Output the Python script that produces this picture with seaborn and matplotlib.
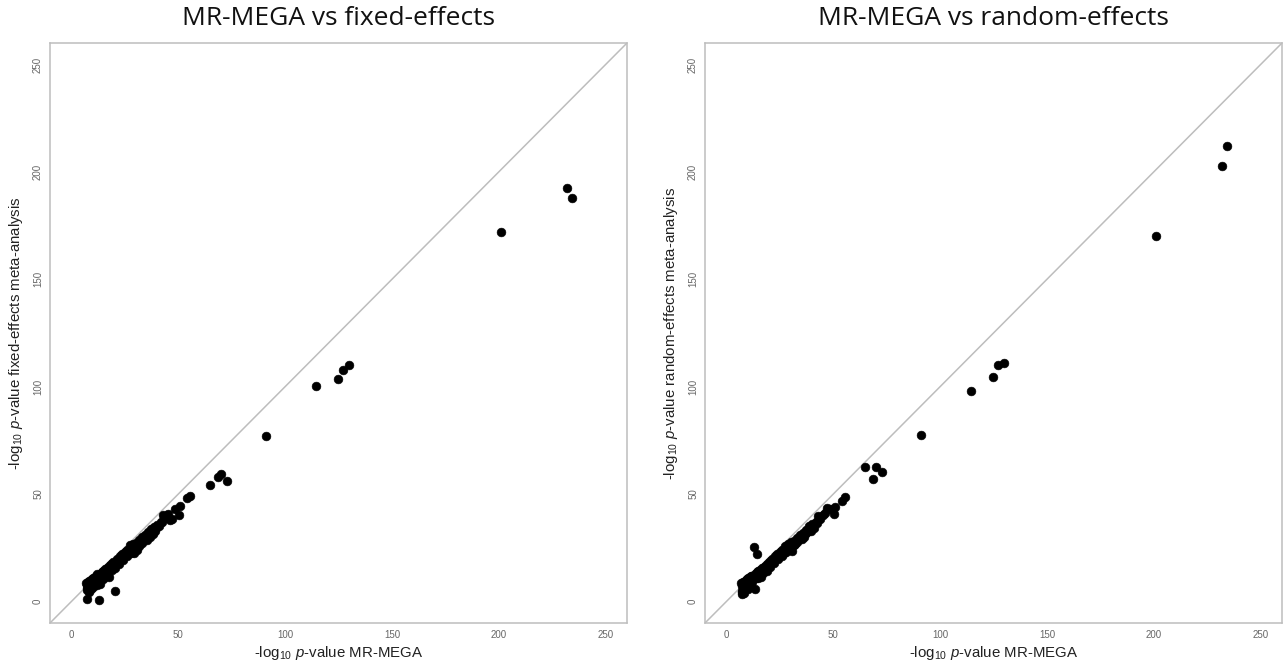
import pandas as pd
import matplotlib
matplotlib.use("Agg")
import matplotlib.pyplot as plt
import seaborn as sns

# -log10 p-values, one entry per SNP
mr_mega = [232.0, 234.2, 201.0, 130.0, 127.2, 124.6, 114.4, 90.9, 70.2, 68.5,
           72.9, 65.1, 55.5, 54.0, 51.0, 50.5, 48.5, 47.2, 45.3, 43.0,
           42.5, 13.0, 14.4, 20.5, 7.3, 13.6, 17.8,
           7.0, 7.1, 7.3, 7.5, 7.6, 7.8, 8.0, 8.2, 8.4, 8.6,
           8.9, 9.1, 9.4, 9.7, 10.0, 10.3, 10.6, 10.9, 11.2, 11.5,
           11.9, 12.2, 12.6, 13.3, 13.7, 14.1, 14.5, 14.9, 15.3, 15.8,
           16.2, 16.7, 17.1, 17.6, 18.0, 18.5, 19.0, 19.5, 20.0, 21.0,
           21.5, 22.0, 22.6, 23.2, 23.8, 24.4, 25.0, 25.6, 26.2, 26.8,
           27.4, 28.0, 28.7, 29.4, 30.1, 30.8, 31.5, 32.2, 32.9, 33.6,
           34.3, 35.0, 35.7, 36.4, 37.1, 37.8, 38.5, 39.2, 40.0, 41.0,
           8.1, 9.0, 10.2, 11.0, 12.0, 14.8, 16.0, 17.3, 18.8, 20.3,
           22.3, 24.0, 26.0, 27.8, 29.8, 31.8, 33.2, 35.4, 36.8, 38.2,
           39.8, 41.8, 44.0, 46.0]

fixed_fx = [192.6, 188.0, 172.1, 110.1, 107.9, 103.4, 100.5, 77.2, 59.2, 57.9,
            56.1, 54.3, 48.9, 48.4, 44.4, 40.1, 43.2, 38.3, 40.8, 40.5,
            36.9, 0.7, 12.0, 4.9, 1.4, 8.0, 11.2,
            8.8, 6.5, 7.8, 5.2, 9.2, 6.8, 8.4, 7.2, 9.6, 6.0,
            8.8, 10.2, 7.6, 10.6, 8.6, 11.0, 9.2, 11.6, 8.0, 12.0,
            10.0, 12.6, 9.4, 12.8, 11.0, 13.8, 12.2, 14.4, 13.0, 15.0,
            13.6, 15.8, 14.4, 16.6, 15.2, 17.4, 16.0, 18.2, 17.0, 18.0,
            20.0, 18.8, 21.0, 19.8, 22.0, 21.0, 23.0, 22.0, 24.0, 23.4,
            26.2, 24.6, 26.8, 22.6, 27.4, 24.0, 28.6, 27.0, 30.0, 28.6,
            31.0, 30.0, 32.4, 31.0, 33.6, 32.0, 34.6, 33.0, 35.6, 35.0,
            4.5, 5.8, 6.8, 9.8, 7.6, 10.6, 12.0, 13.0, 14.6, 15.8,
            17.6, 19.2, 21.0, 22.4, 24.6, 25.8, 27.2, 28.8, 30.0, 31.6,
            34.0, 37.2, 39.0, 37.8]

random_fx = [202.7, 212.2, 170.1, 111.0, 110.3, 104.3, 97.8, 77.3, 62.4, 57.2,
             60.4, 62.4, 48.6, 46.8, 44.1, 40.8, 43.0, 43.5, 40.2, 39.8,
             36.5, 25.4, 22.3, 19.0, 3.6, 5.9, 14.0,
             8.5, 5.0, 7.2, 4.2, 9.0, 6.3, 7.8, 5.6, 9.3, 6.9,
             8.2, 9.8, 7.0, 10.3, 8.8, 10.9, 8.6, 11.3, 9.6, 11.8,
             10.4, 12.1, 11.0, 13.0, 10.8, 13.6, 12.4, 14.3, 12.8, 14.9,
             13.2, 15.6, 14.6, 16.2, 15.0, 17.2, 16.4, 18.0, 16.8, 18.6,
             19.8, 18.4, 21.0, 20.2, 22.1, 21.4, 23.0, 22.2, 23.8, 22.8,
             25.8, 25.0, 27.0, 24.0, 27.8, 23.6, 28.2, 27.0, 29.6, 28.8,
             30.8, 29.6, 32.0, 30.0, 33.2, 32.2, 35.2, 33.4, 36.0, 34.0,
             3.8, 7.4, 6.0, 7.8, 9.0, 11.0, 11.6, 13.4, 14.2, 16.0,
             17.8, 19.6, 21.2, 23.0, 25.4, 26.2, 27.6, 29.2, 31.4, 32.8,
             33.0, 36.8, 38.6, 41.0]

titles = ["MR-MEGA vs fixed-effects", "MR-MEGA vs random-effects"]
y_labels = [r"-log$_{10}$ $\it{p}$-value fixed-effects meta-analysis",
            r"-log$_{10}$ $\it{p}$-value random-effects meta-analysis"]
x_label = r"-log$_{10}$ $\it{p}$-value MR-MEGA"
ticks = [0, 50, 100, 150, 200, 250]

df = pd.DataFrame({"mr_mega": mr_mega, "fixed": fixed_fx, "random": random_fx})

sns.set_style("white")
plt.rcParams['font.family'] = ['Liberation Sans', 'DejaVu Sans']
plt.rcParams['mathtext.fontset'] = 'custom'
plt.rcParams['mathtext.rm'] = 'Liberation Sans'
plt.rcParams['mathtext.it'] = 'Liberation Sans:italic'

fig = plt.figure(figsize=(12.87, 6.63), dpi=100)
boxes = [[50 / 1287, 40 / 663, 577 / 1287, 580 / 663],
         [705 / 1287, 40 / 663, 577 / 1287, 580 / 663]]

grey = "#bdbdbd"
for i, col in enumerate(["fixed", "random"]):
    ax = fig.add_axes(boxes[i])
    ax.axline((0, 0), slope=1, color=grey, lw=1.1, zorder=1)
    sns.scatterplot(data=df, x="mr_mega", y=col, ax=ax, color="black",
                    s=40, edgecolor="black", linewidth=0.4, zorder=3)
    ax.set_xlim(-10, 260)
    ax.set_ylim(-10, 260)
    ax.set_xticks(ticks)
    ax.set_yticks(ticks)
    ax.tick_params(axis="both", labelsize=7, colors=grey, labelcolor="#666666",
                   length=3.5, width=0.8, pad=1.5, direction="out")
    for lab in ax.get_yticklabels():
        lab.set_rotation(90)
        lab.set_va("center")
    for sp in ax.spines.values():
        sp.set_color(grey)
        sp.set_linewidth(1.1)
    ax.set_xlabel(x_label, fontsize=10.8, color="#222222", labelpad=3)
    ax.set_ylabel(y_labels[i], fontsize=10.8, color="#222222", labelpad=6)
    ax.set_title(titles[i], fontsize=19, family=['Open Sans', 'DejaVu Sans'],
                 color="#111111", pad=13)

fig.savefig("out.png", dpi=100, facecolor="white")
